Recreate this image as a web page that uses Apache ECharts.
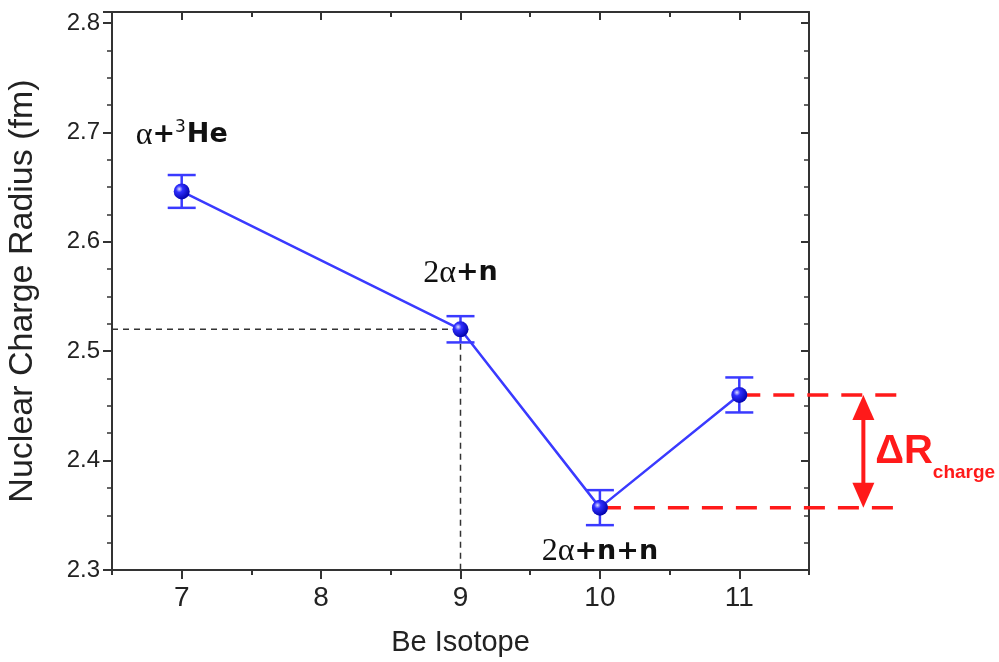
<!DOCTYPE html>
<html>
<head>
<meta charset="utf-8">
<script src="https://cdn.jsdelivr.net/npm/echarts@6/dist/echarts.min.js"></script>
<style>
html, body { margin: 0; padding: 0; background: #fff; }
#main { width: 999px; height: 662px; }
</style>
</head>
<body>
<div id="main"></div>
<script>
// Be isotopes and charge radius (fm)
var isotopes = [7, 9, 10, 11];
var radius = [2.646, 2.520, 2.357, 2.460];
var radiusErr = [0.015, 0.012, 0.016, 0.016];
var clusterLabels = ['{a|α}{b|+}{s|3}{b|He}', '{n|2}{a|α}{b|+n}', '{n|2}{a|α}{b|+n+n}', ''];
var labelSide = ['top', 'top', 'bottom', 'top'];
var xTicks = [7, 8, 9, 10, 11];

// guide lines at Be-9 and the ΔR band between Be-10 and Be-11
var guideX = [6.5, 9, 9];
var guideY = [2.520, 2.520, 2.3];
var bandStartX = [isotopes[2], isotopes[3]];
var bandY = [radius[2], radius[3]];
var bandEndX = 12.15;
var arrowX = 11.89;
var deltaLabelX = 11.975;
var deltaLabelY = 2.408;

var xMin = 6.5, xMax = 11.5;
var yMin = 2.3, yMax = 2.81;

var axisColor = '#333';
var blue = '#3a3aff';
var red = '#ff1a1a';

var myChart = echarts.init(document.getElementById('main'));

var points = [], bars = [];
for (var i = 0; i < isotopes.length; i++) {
	points.push({
		value: [isotopes[i], radius[i]],
		label: {
			show: clusterLabels[i] != '',
			position: labelSide[i],
			distance: labelSide[i] == 'top' ? 32 : 20,
			formatter: clusterLabels[i]
		}
	});
	bars.push([isotopes[i], radius[i] - radiusErr[i], radius[i] + radiusErr[i]]);
}

var guide = [];
for (var j = 0; j < guideX.length; j++) {
	guide.push([guideX[j], guideY[j]]);
}

var band = [];
for (var k = 0; k < bandY.length; k++) {
	band.push([bandStartX[k], bandEndX, bandY[k]]);
}

var richText = {
	a: { fontFamily: 'Liberation Serif', fontSize: 32, color: '#111' },
	n: { fontFamily: 'Liberation Serif', fontSize: 32, color: '#111' },
	b: { fontFamily: 'DejaVu Sans', fontWeight: 'bold', fontSize: 27, color: '#111' },
	s: { fontFamily: 'DejaVu Sans', fontSize: 17, color: '#111', verticalAlign: 'top', padding: [0, 1, 14, 0] }
};

// x axes: bottom/top frame with long ticks at integers, short ticks every 0.5
function xAxisDef(pos, showLine, inside, len, values) {
	var tick = { show: true, inside: inside, length: len, lineStyle: { color: axisColor, width: 2 } };
	if (values) tick.customValues = values;
	return {
		type: 'value', position: pos, min: xMin, max: xMax, interval: 0.5,
		axisLine: { show: showLine, onZero: false, lineStyle: { color: axisColor, width: 2 } },
		axisTick: tick,
		axisLabel: { show: false },
		splitLine: { show: false }
	};
}

var xMain = xAxisDef('bottom', true, false, 9, xTicks);
xMain.name = 'Be Isotope';
xMain.nameLocation = 'middle';
xMain.nameGap = 58;
xMain.nameTextStyle = { fontFamily: 'Liberation Sans', fontSize: 29, color: '#222' };
xMain.axisLabel = {
	show: true, customValues: xTicks,
	fontFamily: 'Liberation Sans', fontSize: 28, color: '#222', margin: 14
};

option = {
	animation: false,
	backgroundColor: '#fff',
	grid: { left: 112, right: 190, top: 12, bottom: 92, outerBoundsMode: 'none' },
	xAxis: [
		xMain,
		xAxisDef('bottom', false, false, 5, null),
		xAxisDef('top', true, true, 8, xTicks),
		xAxisDef('top', false, true, 5, null)
	],
	yAxis: [{
		type: 'value', min: yMin, max: yMax, interval: 0.1,
		name: 'Nuclear Charge Radius (fm)', nameLocation: 'middle', nameGap: 72,
		nameTextStyle: { fontFamily: 'Liberation Sans', fontSize: 34, color: '#222' },
		axisLine: { onZero: false, lineStyle: { color: axisColor, width: 2 } },
		axisTick: { length: 9, lineStyle: { color: axisColor, width: 2 } },
		minorTick: { show: true, splitNumber: 4, length: 5, lineStyle: { color: axisColor, width: 1.5 } },
		axisLabel: {
			fontFamily: 'Liberation Sans', fontSize: 24, color: '#222', margin: 12,
			showMaxLabel: false,
			formatter: function(v) { return v.toFixed(1); }
		},
		splitLine: { show: false }
	}, {
		type: 'value', position: 'right', min: yMin, max: yMax, interval: 0.1,
		axisLine: { show: true, onZero: false, lineStyle: { color: axisColor, width: 2 } },
		axisTick: { show: true, inside: true, length: 8, lineStyle: { color: axisColor, width: 2 } },
		minorTick: { show: true, splitNumber: 4, length: 5, lineStyle: { color: axisColor, width: 1.5 } },
		axisLabel: { show: false },
		splitLine: { show: false }
	}],
	series: [{
		// dashed guide at Be-9
		type: 'line',
		data: guide,
		symbol: 'none',
		lineStyle: { color: '#333', width: 1.5, type: [6, 5] },
		z: 1
	}, {
		// ΔR band edges, running past the frame
		type: 'custom',
		clip: false,
		data: band,
		renderItem: function(params, api) {
			var a = api.coord([api.value(0), api.value(2)]);
			var b = api.coord([api.value(1), api.value(2)]);
			return {
				type: 'line',
				shape: { x1: a[0], y1: a[1], x2: b[0], y2: b[1] },
				style: { stroke: red, lineWidth: 3.5, lineDash: [21, 13] }
			};
		},
		z: 3
	}, {
		// double arrow between the band edges
		type: 'custom',
		clip: false,
		data: [[arrowX, radius[2], radius[3]]],
		renderItem: function(params, api) {
			var x = api.value(0);
			var lo = api.coord([x, api.value(1)]);
			var hi = api.coord([x, api.value(2)]);
			var hl = 25, hw = 11;
			return {
				type: 'group',
				children: [
					{ type: 'line', shape: { x1: hi[0], y1: hi[1] + hl - 2, x2: lo[0], y2: lo[1] - hl + 2 },
					  style: { stroke: red, lineWidth: 4 } },
					{ type: 'polygon', shape: { points: [[hi[0], hi[1]], [hi[0] - hw, hi[1] + hl], [hi[0] + hw, hi[1] + hl]] },
					  style: { fill: red } },
					{ type: 'polygon', shape: { points: [[lo[0], lo[1]], [lo[0] - hw, lo[1] - hl], [lo[0] + hw, lo[1] - hl]] },
					  style: { fill: red } }
				]
			};
		},
		z: 3
	}, {
		// ΔR label
		type: 'scatter',
		clip: false,
		data: [[deltaLabelX, deltaLabelY]],
		symbolSize: 0,
		silent: true,
		itemStyle: { opacity: 1 },
		label: {
			show: true,
			position: 'right',
			distance: 0,
			formatter: '{d|ΔR}{c|charge}',
			rich: {
				d: { fontFamily: 'Liberation Sans', fontWeight: 'bold', fontSize: 40, color: red, lineHeight: 60, verticalAlign: 'middle' },
				c: { fontFamily: 'Liberation Sans', fontWeight: 'bold', fontSize: 19, color: red, lineHeight: 16, verticalAlign: 'bottom' }
			}
		},
		z: 3
	}, {
		// error bars
		type: 'custom',
		data: bars,
		renderItem: function(params, api) {
			var x = api.value(0);
			var lo = api.coord([x, api.value(1)]);
			var hi = api.coord([x, api.value(2)]);
			var w = 14;
			var st = { stroke: blue, lineWidth: 2.5 };
			return {
				type: 'group',
				children: [
					{ type: 'line', shape: { x1: lo[0], y1: lo[1], x2: hi[0], y2: hi[1] }, style: st },
					{ type: 'line', shape: { x1: lo[0] - w, y1: lo[1], x2: lo[0] + w, y2: lo[1] }, style: st },
					{ type: 'line', shape: { x1: hi[0] - w, y1: hi[1], x2: hi[0] + w, y2: hi[1] }, style: st }
				]
			};
		},
		z: 4
	}, {
		type: 'line',
		data: points,
		symbol: 'circle',
		symbolSize: 16,
		lineStyle: { color: blue, width: 2.5 },
		itemStyle: {
			color: new echarts.graphic.RadialGradient(0.35, 0.35, 0.7, [
				{ offset: 0, color: '#e0e0ff' },
				{ offset: 0.3, color: '#3030ff' },
				{ offset: 1, color: '#0000a8' }
			]),
			borderWidth: 0
		},
		label: { rich: richText },
		z: 5
	}]
};

myChart.setOption(option);
</script>
</body>
</html>
